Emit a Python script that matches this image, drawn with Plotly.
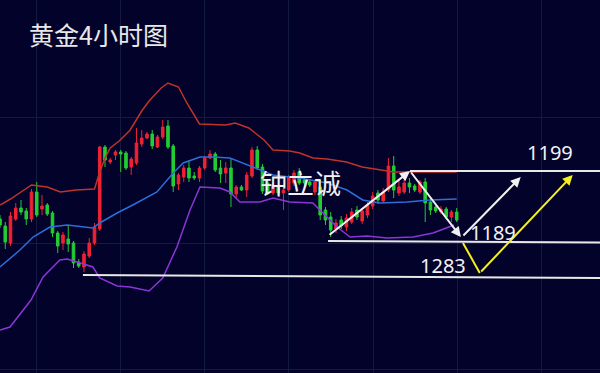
import plotly.graph_objects as go

# ---- candle data (price units) ----
idx = list(range(88))
opens = [1181,1174,1157,1181,1192,1189,1181,1208,1191,1195,1187,1167,1157,1161,1157,1138,1133,1144,1157,1171,
         1253,1238,1245,1248,1247,1233,1237,1256,1262,1266,1253,1263,1274,1254,1216,1223,1232,1224,1222,1232,
         1242,1246,1232,1227,1232,1206,1213,1210,1224,1250,1233,1217,1207,1213,1207,1210,1217,1228,1220,1218,
         1208,1213,1190,1183,1171,1180,1173,1178,1190,1179,1185,1194,1207,1199,1210,1234,1207,1208,1217,1214,
         1208,1218,1198,1193,1188,1191,1183,1188]
closes = [1175,1158,1184,1192,1188,1181,1208,1185,1194,1186,1167,1154,1165,1156,1137,1134,1146,1157,1173,1253,
          1240,1240,1248,1246,1232,1241,1257,1262,1266,1254,1263,1273,1253,1214,1225,1232,1222,1222,1232,1242,
          1246,1230,1226,1232,1206,1213,1210,1225,1250,1232,1209,1207,1215,1207,1210,1223,1227,1217,1217,1215,
          1218,1185,1180,1170,1177,1174,1182,1188,1183,1189,1195,1204,1200,1208,1234,1210,1213,1217,1213,1210,
          1218,1197,1190,1189,1191,1183,1188,1180]
highs = [1185,1178,1188,1197,1200,1192,1211,1218,1205,1197,1189,1169,1168,1175,1159,1141,1149,1162,1177,1254,
         1255,1242,1250,1250,1249,1243,1272,1270,1268,1270,1265,1280,1280,1256,1227,1235,1240,1228,1234,1244,
         1250,1248,1240,1238,1242,1215,1215,1228,1253,1254,1236,1220,1217,1215,1212,1225,1230,1232,1224,1220,
         1220,1220,1193,1188,1181,1184,1186,1192,1194,1192,1198,1208,1210,1212,1242,1244,1220,1220,1222,1216,
         1220,1222,1202,1195,1194,1193,1190,1192]
lows = [1172,1151,1154,1179,1185,1175,1178,1183,1185,1184,1163,1147,1150,1148,1132,1132,1128,1142,1155,1169,
        1233,1236,1240,1228,1230,1225,1235,1253,1261,1251,1252,1261,1251,1208,1210,1218,1218,1220,1218,1230,
        1241,1228,1217,1217,1193,1202,1209,1203,1222,1230,1206,1205,1205,1205,1190,1208,1214,1215,1214,1213,
        1205,1180,1175,1163,1167,1171,1169,1176,1180,1176,1182,1191,1196,1197,1208,1202,1204,1206,1207,1208,
        1206,1178,1185,1187,1186,1181,1178,1178]

# ---- Bollinger bands (read at sampled candle positions) ----
upper_x = [0,2,4,6,9,11.5,14.5,18,19,20,21,22.7,24.8,26,27,28.4,30.7,32,34,35.6,38,43,44.8,47.4,50.3,52,55.2,57.1,59.6,62.3,66,69,72.4,75,80,87]
upper_y = [1195,1201,1208,1215,1213,1208,1210,1211,1228,1242,1252,1259,1270,1280,1289,1299,1312,1317,1313,1297,1276,1275,1277,1272,1260,1250,1249,1247,1242,1241,1238,1233,1230,1228,1228,1228]
mid_x = [0,3.8,6.3,9.5,12.8,17.7,19,22.3,25.3,28.6,29.9,33,34.9,38.1,40.6,43.8,46.3,49.5,52,55.2,57.1,62.3,66.1,69.1,72.4,77.5,81.9,87]
mid_y = [1133,1150,1163,1173,1175,1172,1177,1187,1195,1204,1208,1227,1237,1243,1243,1242,1237,1230,1225,1223,1222,1217,1210,1200,1197,1198,1200,1201]
lower_x = [0,1.9,5.9,8.2,11.4,12.8,14.7,17.7,19,22.3,24.8,28.4,31,33.7,36.2,38.1,41.9,43.8,45.7,49.5,52,55.2,59.6,61.5,64.2,66.7,69.9,73.7,78.7,82.5,86.5]
lower_y = [1070,1073,1100,1123,1140,1141,1138,1133,1122,1114,1113,1109,1122,1153,1190,1213,1212,1208,1198,1198,1202,1198,1197,1187,1173,1163,1164,1162,1163,1167,1175]

# ---- channel lines and arrows (x in candle index, y in price) ----
channels = [((78.1, 1229), (114.3, 1229)),
            ((62.5, 1159), (114.3, 1157.5)),
            ((15.8, 1125), (114.3, 1122))]
white_arrows = [((62.5, 1164), (78.1, 1229)),
                ((78.1, 1229), (87.8, 1163)),
                ((88.0, 1163), (99.2, 1223))]
yellow_leg = ((88.2, 1157), (91.4, 1127))
yellow_arrow = ((91.4, 1127), (109.1, 1225))

labels = [("1199", 104.8, 1248), ("1189", 93.9, 1168), ("1283", 84.4, 1135)]

BG = "#02022a"
GRID = "#141a40"

fig = go.Figure()
fig.add_trace(go.Scatter(x=upper_x, y=upper_y, mode="lines", line=dict(color="#c0332a", width=1.5), hoverinfo="skip"))
fig.add_trace(go.Scatter(x=mid_x, y=mid_y, mode="lines", line=dict(color="#2d6ed8", width=1.5), hoverinfo="skip"))
fig.add_trace(go.Scatter(x=lower_x, y=lower_y, mode="lines", line=dict(color="#8b35d6", width=1.5), hoverinfo="skip"))
fig.add_trace(go.Candlestick(
    x=idx, open=opens, high=highs, low=lows, close=closes,
    increasing=dict(line=dict(color="#ee2233", width=1), fillcolor="#ee2233"),
    decreasing=dict(line=dict(color="#22cc33", width=1), fillcolor="#22cc33"),
    whiskerwidth=0, hoverinfo="skip"))

shapes = []
for (x0, y0), (x1, y1) in channels:
    shapes.append(dict(type="line", x0=x0, y0=y0, x1=x1, y1=y1, xref="x", yref="y",
                       line=dict(color="#e8e8e8", width=2)))
(x0, y0), (x1, y1) = yellow_leg
shapes.append(dict(type="line", x0=x0, y0=y0, x1=x1, y1=y1, xref="x", yref="y",
                   line=dict(color="#f4f020", width=2)))

annotations = []
for (tx, ty), (hx, hy) in white_arrows:
    annotations.append(dict(x=hx, y=hy, ax=tx, ay=ty, xref="x", yref="y", axref="x", ayref="y",
                            text="", showarrow=True, arrowhead=2, arrowsize=1, arrowwidth=2,
                            arrowcolor="#f0f0f0"))
(tx, ty), (hx, hy) = yellow_arrow
annotations.append(dict(x=hx, y=hy, ax=tx, ay=ty, xref="x", yref="y", axref="x", ayref="y",
                        text="", showarrow=True, arrowhead=2, arrowsize=1, arrowwidth=2,
                        arrowcolor="#f4f020"))
for t, x, y in labels:
    annotations.append(dict(x=x, y=y, xref="x", yref="y", text=t, showarrow=False,
                            font=dict(family="Noto Sans", size=20, color="#f2f2f2")))
annotations.append(dict(x=0.045, y=0.909, xref="paper", yref="paper", text="黄金4小时图",
                        showarrow=False, xanchor="left", yanchor="middle",
                        font=dict(family="Noto Sans CJK SC", size=25, color="#e8e8e8")))
annotations.append(dict(x=0.5, y=0.512, xref="paper", yref="paper", text="钟立诚",
                        showarrow=False, xanchor="center", yanchor="middle",
                        font=dict(family="Noto Sans CJK SC", size=27, color="#f0f0f0")))

fig.update_layout(
    width=600, height=373, margin=dict(l=0, r=0, t=0, b=0),
    paper_bgcolor=BG, plot_bgcolor=BG, showlegend=False,
    shapes=shapes, annotations=annotations,
    xaxis=dict(range=[0, 114.3], showticklabels=False, zeroline=False,
               showgrid=True, gridcolor=GRID, gridwidth=1, tick0=6.86, dtick=16.05,
               rangeslider=dict(visible=False), fixedrange=True),
    yaxis=dict(range=[1027, 1400], showticklabels=False, zeroline=False,
               showgrid=True, gridcolor=GRID, gridwidth=1, tick0=1157, dtick=126, fixedrange=True),
)
fig.write_html("out.html", config={"displayModeBar": False},
               post_script="document.body.style.margin='0';document.body.style.background='" + BG + "';")
